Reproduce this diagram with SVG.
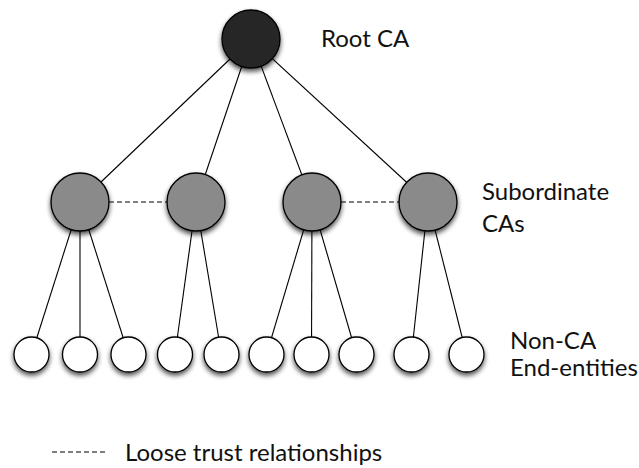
<svg xmlns="http://www.w3.org/2000/svg" width="639" height="468" viewBox="0 0 639 468">
  <defs>
    <filter id="shadow" x="-40%" y="-40%" width="180%" height="190%">
      <feGaussianBlur in="SourceAlpha" stdDeviation="2.6"/>
      <feOffset dx="0" dy="3" result="blur"/>
      <feComponentTransfer><feFuncA type="linear" slope="0.7"/></feComponentTransfer>
      <feMerge><feMergeNode/><feMergeNode in="SourceGraphic"/></feMerge>
    </filter>
  </defs>
  <style>
    .edge { stroke: #000; stroke-width: 1.1; fill: none; }
    .loose { stroke: #000; stroke-width: 1.1; stroke-dasharray: 5 3; fill: none; }
    .node { stroke: #000; stroke-width: 1.3; filter: url(#shadow); }
    .root { fill: #282828; }
    .sub { fill: #8a8a8a; }
    .leaf { fill: #ffffff; }
    .label { font-family: Lato, "Open Sans", sans-serif; font-size: 24px; fill: #111; }
  </style>
  <rect width="639" height="468" fill="#fff"/>

  <!-- connectors: root to subordinates, subordinates to end entities, loose trust links -->
  <g id="connectors">
    <line class="edge" x1="251" y1="39" x2="80" y2="202"/>
    <line class="edge" x1="251" y1="39" x2="196" y2="202"/>
    <line class="edge" x1="251" y1="39" x2="312" y2="202"/>
    <line class="edge" x1="251" y1="39" x2="428" y2="202"/>

    <line class="edge" x1="80" y1="202" x2="31.5" y2="354.5"/>
    <line class="edge" x1="80" y1="202" x2="80" y2="354.5"/>
    <line class="edge" x1="80" y1="202" x2="128.5" y2="354.5"/>
    <line class="edge" x1="196" y1="202" x2="175" y2="354.5"/>
    <line class="edge" x1="196" y1="202" x2="221.5" y2="354.5"/>
    <line class="edge" x1="312" y1="202" x2="266.5" y2="354.5"/>
    <line class="edge" x1="312" y1="202" x2="311.5" y2="354.5"/>
    <line class="edge" x1="312" y1="202" x2="356.5" y2="354.5"/>
    <line class="edge" x1="428" y1="202" x2="411.5" y2="354.5"/>
    <line class="edge" x1="428" y1="202" x2="466.5" y2="354.5"/>

    <line class="loose" x1="109" y1="202" x2="167" y2="202"/>
    <line class="loose" x1="341" y1="202" x2="399" y2="202"/>
  </g>

  <g id="root-ca"><circle class="node root" cx="251" cy="39" r="29"/></g>

  <g id="sub-ca-1"><circle class="node sub" cx="80" cy="202" r="29"/></g>
  <g id="sub-ca-2"><circle class="node sub" cx="196" cy="202" r="29"/></g>
  <g id="sub-ca-3"><circle class="node sub" cx="312" cy="202" r="29"/></g>
  <g id="sub-ca-4"><circle class="node sub" cx="428" cy="202" r="29"/></g>

  <g id="ee-1"><circle class="node leaf" cx="31.5" cy="354.5" r="17.5"/></g>
  <g id="ee-2"><circle class="node leaf" cx="80" cy="354.5" r="17.5"/></g>
  <g id="ee-3"><circle class="node leaf" cx="128.5" cy="354.5" r="17.5"/></g>
  <g id="ee-4"><circle class="node leaf" cx="175" cy="354.5" r="17.5"/></g>
  <g id="ee-5"><circle class="node leaf" cx="221.5" cy="354.5" r="17.5"/></g>
  <g id="ee-6"><circle class="node leaf" cx="266.5" cy="354.5" r="17.5"/></g>
  <g id="ee-7"><circle class="node leaf" cx="311.5" cy="354.5" r="17.5"/></g>
  <g id="ee-8"><circle class="node leaf" cx="356.5" cy="354.5" r="17.5"/></g>
  <g id="ee-9"><circle class="node leaf" cx="411.5" cy="354.5" r="17.5"/></g>
  <g id="ee-10"><circle class="node leaf" cx="466.5" cy="354.5" r="17.5"/></g>

  <!-- tier labels -->
  <g id="labels">
    <text class="label" x="321" y="47">Root CA</text>
    <text class="label" x="482" y="200">Subordinate</text>
    <text class="label" x="482" y="232">CAs</text>
    <text class="label" x="510" y="349">Non-CA</text>
    <text class="label" x="510" y="376">End-entities</text>
  </g>

  <!-- legend -->
  <g id="legend">
    <line class="loose" x1="52" y1="452" x2="108" y2="452" stroke-dasharray="5.5 3"/>
    <text class="label" x="125" y="461">Loose trust relationships</text>
  </g>
</svg>
